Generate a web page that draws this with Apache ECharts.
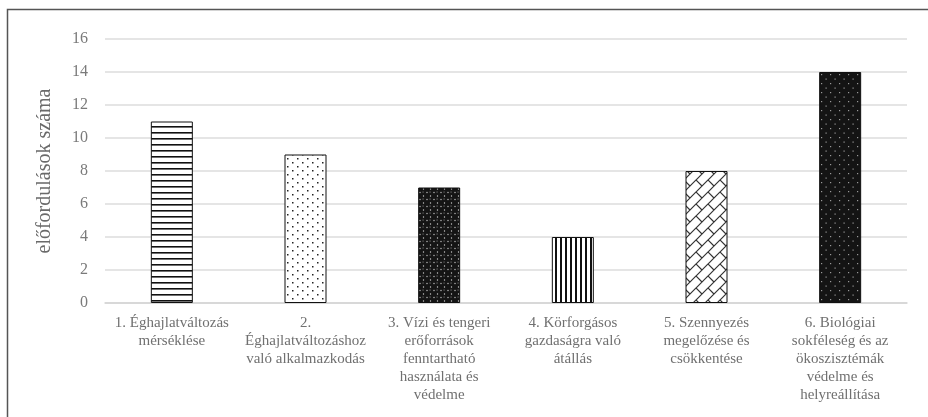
<!DOCTYPE html>
<html>
<head>
<meta charset="utf-8">
<script src="https://cdn.jsdelivr.net/npm/echarts@6/dist/echarts.min.js"></script>
<style>
  html, body { margin: 0; padding: 0; background: #fff; }
  #chart { width: 928px; height: 417px; }
</style>
</head>
<body>
<div id="chart"></div>
<script>
// data
var categories = [
  '1. Éghajlatváltozás\nmérséklése',
  '2.\nÉghajlatváltozáshoz\nvaló alkalmazkodás',
  '3. Vízi és tengeri\nerőforrások\nfenntartható\nhasználata és\nvédelme',
  '4. Körforgásos\ngazdaságra való\nátállás',
  '5. Szennyezés\nmegelőzése és\ncsökkentése',
  '6. Biológiai\nsokféleség és az\nökoszisztémák\nvédelme és\nhelyreállítása'
];
var counts = [11, 9, 7, 4, 8, 14];
var yTicks = [0, 2, 4, 6, 8, 10, 12, 14, 16];
var yName = 'előfordulások száma';

// fill patterns, one per bar
function tile(w, h, draw) {
  var c = document.createElement('canvas');
  c.width = w; c.height = h;
  var ctx = c.getContext('2d');
  draw(ctx, w, h);
  return { image: c, repeat: 'repeat' };
}

var patterns = [
  // horizontal stripes
  tile(6, 6, function (ctx, w, h) {
    ctx.fillStyle = '#fff'; ctx.fillRect(0, 0, w, h);
    ctx.fillStyle = '#111'; ctx.fillRect(0, 0, w, 1.6);
  }),
  // sparse dots
  tile(10, 8, function (ctx, w, h) {
    ctx.fillStyle = '#fff'; ctx.fillRect(0, 0, w, h);
    ctx.fillStyle = '#222';
    ctx.fillRect(2, 2, 1.5, 1.5);
    ctx.fillRect(7, 6, 1.5, 1.5);
  }),
  // dark spheres
  tile(7, 7, function (ctx, w, h) {
    ctx.fillStyle = '#e8e8e8'; ctx.fillRect(0, 0, w, h);
    ctx.fillStyle = '#151515';
    [[0, 0], [7, 0], [0, 7], [7, 7], [3.5, 3.5]].forEach(function (p) {
      ctx.beginPath(); ctx.arc(p[0], p[1], 3.0, 0, Math.PI * 2); ctx.fill();
    });
    ctx.fillStyle = '#aaa';
    ctx.fillRect(2.6, 2.6, 0.9, 0.9);
  }),
  // vertical stripes
  tile(5, 5, function (ctx, w, h) {
    ctx.fillStyle = '#fff'; ctx.fillRect(0, 0, w, h);
    ctx.fillStyle = '#111'; ctx.fillRect(0, 0, 2, h);
  }),
  // diagonal bricks
  tile(12, 12, function (ctx, w, h) {
    ctx.fillStyle = '#fff'; ctx.fillRect(0, 0, w, h);
    ctx.strokeStyle = '#333'; ctx.lineWidth = 1.2;
    ctx.beginPath();
    ctx.moveTo(-1, 13); ctx.lineTo(13, -1);
    ctx.moveTo(-1, 1); ctx.lineTo(1, -1);
    ctx.moveTo(11, 13); ctx.lineTo(13, 11);
    ctx.moveTo(0, 0); ctx.lineTo(6, 6);
    ctx.stroke();
  }),
  // black with light dots
  tile(9, 9, function (ctx, w, h) {
    ctx.fillStyle = '#141414'; ctx.fillRect(0, 0, w, h);
    ctx.fillStyle = '#9a9a9a';
    ctx.fillRect(2, 2, 1.2, 1.2);
    ctx.fillRect(6.5, 6.5, 1.2, 1.2);
  })
];

var font = '"Liberation Serif", "DejaVu Serif", serif';
var chart = echarts.init(document.getElementById('chart'), null, { renderer: 'canvas' });

chart.setOption({
  animation: false,
  backgroundColor: '#fff',
  graphic: [{
    type: 'rect',
    shape: { x: 7.5, y: 9.5, width: 940, height: 430 },
    style: { fill: 'none', stroke: '#555', lineWidth: 1.5 },
    silent: true
  }],
  grid: { left: 105, right: 21, top: 39, bottom: 114 },
  xAxis: {
    type: 'category',
    data: categories,
    axisLine: { lineStyle: { color: '#d4d4d4', width: 1.5 } },
    axisTick: { show: false },
    axisLabel: {
      interval: 0,
      margin: 11,
      color: '#707070',
      fontFamily: font,
      fontSize: 15,
      lineHeight: 18,
      verticalAlign: 'top'
    }
  },
  yAxis: {
    type: 'value',
    min: yTicks[0],
    max: yTicks[yTicks.length - 1],
    interval: 2,
    name: yName,
    nameLocation: 'middle',
    nameGap: 50,
    nameTextStyle: { color: '#6a6a6a', fontFamily: font, fontSize: 20 },
    axisLine: { show: false },
    axisTick: { show: false },
    axisLabel: { margin: 17, color: '#7a7a7a', fontFamily: font, fontSize: 16 },
    splitLine: { lineStyle: { color: '#dcdcdc', width: 1.5 } }
  },
  series: [{
    type: 'bar',
    barWidth: 42,
    data: counts.map(function (v, i) {
      return {
        value: v,
        itemStyle: { color: patterns[i], borderColor: '#111', borderWidth: 1 }
      };
    })
  }]
});
</script>
</body>
</html>
